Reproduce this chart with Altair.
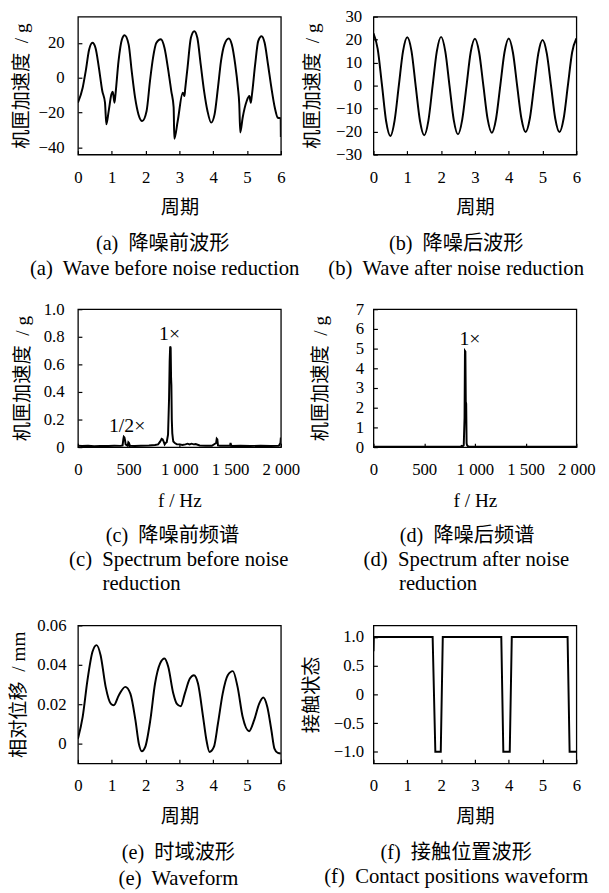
import altair as alt
import pandas as pd

FONT = "'Liberation Serif', 'Noto Sans CJK SC'"

# ---------------- data ----------------
# (a) wave before noise reduction
t_a = [0, 0.14, 0.23, 0.33, 0.43, 0.52, 0.62, 0.72, 0.80, 0.84, 0.91, 0.99, 1.03, 1.08, 1.11,
       1.20, 1.30, 1.38, 1.50, 1.59, 1.69, 1.79, 1.90, 2.03, 2.13, 2.22, 2.32, 2.45, 2.56, 2.66,
       2.76, 2.83, 2.85, 2.95, 3.10, 3.15, 3.17, 3.24, 3.34, 3.44, 3.53, 3.63, 3.73, 3.83, 3.94,
       4.04, 4.14, 4.23, 4.33, 4.46, 4.55, 4.65, 4.73, 4.77, 4.80, 4.87, 4.99, 5.07, 5.11, 5.14,
       5.24, 5.33, 5.43, 5.52, 5.62, 5.72, 5.82, 5.91, 5.995, 6.0]
v_a = [-14.3, -5.7, 3.8, 16, 20, 17, 5.7, -7.6, -14.3, -26.7, -19, -9.5, -8, -14.3, -9.5,
       9.5, 21.9, 24.4, 19, 3.8, -11.4, -21, -24.8, -19, -1.9, 11.4, 20, 22, 17, 5.7,
       -7.6, -17, -35, -24.8, -8.6, -10.5, -6.7, 5.7, 22.9, 26.7, 22.9, 7.6, -7.6, -19, -25.7,
       -21, -5.7, 9.5, 19, 22.5, 19, 7.6, -5.7, -15, -31.4, -22.9, -13.3, -10.5, -14.3, -10.5,
       7.6, 21, 23.8, 20, 7.6, -5.7, -17, -22.9, -23.2, -34]

# (b) wave after noise reduction
t_b = [0, 0.125, 0.25, 0.375, 0.5, 0.625, 0.75, 0.875, 1.0, 1.125, 1.25, 1.375, 1.5, 1.625,
       1.75, 1.875, 2.0, 2.125, 2.25, 2.375, 2.5, 2.625, 2.75, 2.875, 3.0, 3.125, 3.25, 3.375,
       3.5, 3.625, 3.75, 3.875, 4.0, 4.125, 4.25, 4.375, 4.5, 4.625, 4.75, 4.875, 5.0, 5.125,
       5.25, 5.375, 5.5, 5.625, 5.75, 5.875, 6.0]
v_b = [22.7, 16, 0.5, -15.5, -21.9, -15.2, 0, 15,
       21, 15, -0.3, -15.3, -21.6, -15.2, 0, 15,
       21.2, 14.8, -0.2, -15, -21.2, -14.8, -0.3, 14.5,
       20.4, 14.4, 0, -14.5, -20.5, -14.4, 0, 14.5,
       20.5, 14.3, -0.2, -14.3, -20.2, -14.2, -0.1, 14,
       19.8, 14, 0, -14.3, -20.2, -14.2, 0.2, 14.5,
       20.5]

# (c) spectrum before noise reduction
f_c = [0, 40, 100, 160, 220, 300, 360, 420, 440, 448,
       452, 458, 464, 470, 490, 497, 503, 510, 560, 620,
       700, 760, 790, 810, 825, 835, 845, 855, 865, 875,
       888, 898, 904, 909, 914, 918, 921, 925, 930, 936,
       940, 955, 975, 1000, 1030, 1060, 1080, 1100, 1120, 1140,
       1160, 1200, 1260, 1320, 1362, 1368, 1374, 1380, 1400, 1500,
       1504, 1508, 1520, 1600, 1700, 1800, 1900, 1980, 1996, 2000]
v_c = [0.01, 0.008, 0.01, 0.007, 0.009, 0.008, 0.01, 0.009, 0.012, 0.06,
       0.075, 0.07, 0.05, 0.02, 0.01, 0.035, 0.03, 0.01, 0.008, 0.01,
       0.012, 0.015, 0.02, 0.04, 0.06, 0.055, 0.04, 0.02, 0.03, 0.035,
       0.09, 0.35, 0.62, 0.73, 0.72, 0.5, 0.45, 0.2, 0.1, 0.06,
       0.04, 0.03, 0.02, 0.02, 0.015, 0.02, 0.025, 0.02, 0.025, 0.02,
       0.022, 0.012, 0.01, 0.01, 0.03, 0.06, 0.055, 0.012, 0.01, 0.01,
       0.03, 0.012, 0.008, 0.01, 0.008, 0.01, 0.008, 0.01, 0.03, 0.07]

# (d) spectrum after noise reduction
f_d = [0, 100, 200, 300, 400, 480, 486, 492, 600, 700,
       800, 860, 870, 880, 890, 898, 902, 906, 910, 914,
       918, 922, 930, 940, 960, 980, 1000, 1010, 1100, 1200,
       1300, 1400, 1500, 1600, 1700, 1800, 1900, 2000]
v_d = [0.02, 0.02, 0.02, 0.02, 0.02, 0.02, 0.02, 0.02, 0.02, 0.02,
       0.02, 0.03, 0.06, 0.04, 0.1, 1.5, 4.88, 4.85, 2.3, 2.2,
       0.2, 0.1, 0.05, 0.03, 0.02, 0.02, 0.02, 0.02, 0.02, 0.02,
       0.02, 0.02, 0.02, 0.02, 0.02, 0.02, 0.02, 0.02]

# (e) relative displacement waveform
t_e = [0, 0.14, 0.28, 0.43, 0.55, 0.67, 0.82, 0.97, 1.06, 1.21,
       1.40, 1.55, 1.70, 1.80, 1.89, 1.99, 2.14, 2.28, 2.43, 2.56,
       2.67, 2.82, 2.92, 3.04, 3.16, 3.31, 3.43, 3.55, 3.70, 3.80,
       3.89, 4.02, 4.14, 4.28, 4.43, 4.58, 4.72, 4.87, 5.06, 5.21,
       5.36, 5.48, 5.60, 5.72, 5.81, 5.91, 6.0]
v_e = [0.0025, 0.0136, 0.032, 0.0466, 0.050, 0.0449, 0.0288, 0.0203, 0.0195, 0.0246,
       0.0288, 0.0254, 0.0119, 0.0, -0.0039, -0.0017, 0.0119, 0.0305, 0.0407, 0.0432,
       0.039, 0.0254, 0.0203, 0.019, 0.0254, 0.033, 0.0347, 0.0305, 0.0136, 0.0017,
       -0.0042, -0.0017, 0.0102, 0.0254, 0.0347, 0.0368, 0.0288, 0.0136, 0.0063, 0.0119,
       0.0203, 0.0234, 0.0186, 0.0068, -0.0025, -0.0047, -0.005]

# (f) contact state
t_f = [0, 0.01, 1.75, 1.83, 1.99, 2.05, 3.78, 3.84, 4.03, 4.09, 5.74, 5.80, 6.0]
v_f = [0.75, 1, 1, -1, -1, 1, 1, -1, -1, 1, 1, -1, -1]

period_ticks = [0, 1, 2, 3, 4, 5, 6]
freq_ticks = [0, 500, 1000, 1500, 2000]

notes_c = {"f": [485, 903], "v": [0.15, 0.82], "label": ["1/2×", "1×"]}
notes_d = {"f": [951], "v": [5.5], "label": ["1×"]}

NB = "\u00a0"
title_acc = "机匣加速度" + NB + " / g"
title_disp = "相对位移" + NB + " / mm"
title_state = "接触状态"
title_period = "周期"
title_freq = "f / Hz"

cap_a = ["(a)" + NB + " 降噪前波形", "(a)" + NB + " Wave before noise reduction"]
cap_b = ["(b)" + NB + " 降噪后波形", "(b)" + NB + " Wave after noise reduction"]
cap_c = ["(c)" + NB + " 降噪前频谱", "(c)" + NB + " Spectrum before noise", "reduction"]
cap_d = ["(d)" + NB + " 降噪后频谱", "(d)" + NB + " Spectrum after noise", "reduction"]
cap_e = ["(e)" + NB + " 时域波形", "(e)" + NB + " Waveform"]
cap_f = ["(f)" + NB + " 接触位置波形", "(f)" + NB + " Contact positions waveform"]

W, H = 206, 140
TICK_FS = 17
TITLE_FS = 19.5
CAP_CN = 20.5
CAP_EN = 21

ZERO_1F = "datum.value == 0 ? '0' : format(datum.value, '.1f')"
ZERO_2F = "datum.value == 0 ? '0' : format(datum.value, '.2f')"
THOUS = "datum.value >= 1000 ? replace(format(datum.value, ','), ',', ' ') : format(datum.value, 'd')"


def axis(values, title, label_expr=None, label_pad=15, title_pad=14):
    kw = dict(values=values, title=title, labelPadding=label_pad, titlePadding=title_pad,
              offset=-4, tickSize=4, domain=False, grid=False, labelFlush=False,
              labelOverlap=False)
    if label_expr:
        kw["labelExpr"] = label_expr
    return alt.Axis(**kw)


def caption_layer(text, x, y, size, align="center"):
    return alt.Chart(pd.DataFrame({"label": [text]})).mark_text(
        font=FONT, fontSize=size, align=align, baseline="middle", color="black"
    ).encode(text="label:N", x=alt.value(x), y=alt.value(y))


def panel(df, xf, yf, xdom, ydom, xax, yax, interp, captions, notes=None):
    xenc = alt.X(f"{xf}:Q", scale=alt.Scale(domain=xdom, nice=False, zero=False), axis=xax)
    yenc = alt.Y(f"{yf}:Q", scale=alt.Scale(domain=ydom, nice=False, zero=False), axis=yax)
    line = alt.Chart(df).mark_line(color="black", strokeWidth=2, interpolate=interp,
                                   clip=True).encode(x=xenc, y=yenc)
    layers = [line]
    if notes is not None:
        ndf = pd.DataFrame({xf: notes["f"], yf: notes["v"], "label": notes["label"]})
        layers.append(alt.Chart(ndf).mark_text(font=FONT, fontSize=20, color="black",
                                               baseline="middle")
                      .encode(x=xenc, y=yenc, text="label:N"))
    for c in captions:
        layers.append(caption_layer(*c))
    return alt.layer(*layers).properties(width=W, height=H)


pa = panel(pd.DataFrame({"t": t_a, "a": v_a}), "t", "a", [0, 6], [-44, 35],
           axis(period_ticks, title_period), axis([-40, -20, 0, 20], title_acc, label_pad=14, title_pad=7),
           "monotone",
           [(cap_a[0], 86, H + 91, CAP_CN), (cap_a[1], 88, H + 116, CAP_EN)])
pb = panel(pd.DataFrame({"t": t_b, "a": v_b}), "t", "a", [0, 6], [-30, 30],
           axis(period_ticks, title_period), axis([-30, -20, -10, 0, 10, 20, 30], title_acc, label_pad=12, title_pad=13),
           "monotone",
           [(cap_b[0], 84, H + 91, CAP_CN), (cap_b[1], 84, H + 116, CAP_EN)])
pc = panel(pd.DataFrame({"f": f_c, "a": v_c}), "f", "a", [0, 2000], [0, 1],
           axis(freq_ticks, title_freq, THOUS), axis([0, 0.2, 0.4, 0.6, 0.8, 1.0], title_acc, ZERO_1F, label_pad=14, title_pad=11),
           "linear",
           [(cap_c[0], 96, H + 90, CAP_CN), (cap_c[1], -9, H + 115, CAP_EN, "left"),
            (cap_c[2], 25, H + 139, CAP_EN, "left")],
           notes_c)
pd_ = panel(pd.DataFrame({"f": f_d, "a": v_d}), "f", "a", [0, 2000], [0, 7],
            axis(freq_ticks, title_freq, THOUS), axis([0, 1, 2, 3, 4, 5, 6, 7], title_acc, label_pad=10, title_pad=25),
            "linear",
            [(cap_d[0], 95, H + 90, CAP_CN), (cap_d[1], -10, H + 115, CAP_EN, "left"),
             (cap_d[2], 26, H + 139, CAP_EN, "left")],
            notes_d)
pe = panel(pd.DataFrame({"t": t_e, "a": v_e}), "t", "a", [0, 6], [-0.01, 0.06],
           axis(period_ticks, title_period), axis([0, 0.02, 0.04, 0.06], title_disp, ZERO_2F, label_pad=12, title_pad=8),
           "monotone",
           [(cap_e[0], 102, H + 91, CAP_CN), (cap_e[1], 102, H + 118, CAP_EN)])
pf = panel(pd.DataFrame({"t": t_f, "a": v_f}), "t", "a", [0, 6], [-1.2, 1.2],
           axis(period_ticks, title_period), axis([-1.0, -0.5, 0, 0.5, 1.0], title_state, ZERO_1F, label_pad=10, title_pad=12),
           "linear",
           [(cap_f[0], 84, H + 91, CAP_CN), (cap_f[1], 84, H + 116, CAP_EN)])

# flush bounds: nested concat groups count as (almost) zero height, so spacing includes row height
row1 = alt.hconcat(pa, pb, spacing=94, bounds="flush")
row2 = alt.hconcat(pc, pd_, spacing=94, bounds="flush")
row3 = alt.hconcat(pe, pf, spacing=94, bounds="flush")
top = alt.vconcat(row1, row2, spacing=297, bounds="flush")
chart = alt.vconcat(top, row3, spacing=618, bounds="flush").properties(
    background="white",
    padding={"left": 0, "top": -8, "right": 5, "bottom": 5},
).configure_view(
    stroke="black", strokeWidth=1.3
).configure_axis(
    labelFont=FONT, labelFontSize=TICK_FS, labelColor="black",
    titleFont=FONT, titleFontSize=TITLE_FS, titleFontWeight="normal", titleColor="black",
    tickColor="black", tickWidth=1.2,
)

chart.save("out.html", embed_options={"renderer": "svg", "actions": False})
